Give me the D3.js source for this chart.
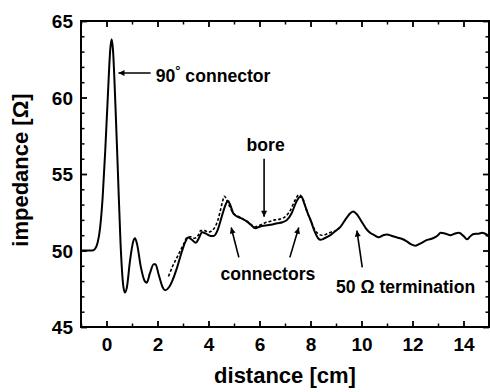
<!DOCTYPE html>
<html><head><meta charset="utf-8">
<script src="https://cdn.jsdelivr.net/npm/d3@7"></script>
<style>body{margin:0;background:#fff}svg{display:block}text{font-family:"Liberation Sans",Arial,sans-serif;font-weight:bold;fill:#000}</style>
</head><body><svg id="c" width="490" height="392"></svg>
<script>
const solidX=[-1.0,-0.55,-0.45,-0.35,-0.25,-0.15,-0.05,0.05,0.15,0.2,0.25,0.35,0.45,0.55,0.65,0.72,0.8,0.92,1.05,1.12,1.2,1.35,1.5,1.58,1.7,1.85,1.92,2.05,2.2,2.3,2.45,2.6,2.77,2.95,3.1,3.2,3.35,3.5,3.62,3.75,3.9,4.08,4.2,4.35,4.5,4.65,4.76,4.85,4.98,5.15,5.3,5.5,5.65,5.84,6.0,6.1,6.3,6.5,6.69,6.9,7.08,7.25,7.45,7.58,7.65,7.75,7.9,8.0,8.15,8.3,8.39,8.55,8.78,9.0,9.18,9.4,9.57,9.67,9.8,10.0,10.15,10.29,10.5,10.68,10.85,11.0,11.2,11.4,11.6,11.79,11.95,12.12,12.3,12.58,12.8,13.0,13.1,13.3,13.49,13.65,13.82,14.0,14.14,14.25,14.4,14.6,14.73,14.9,15.0];
const solidY=[50.0,50.0,50.1,50.5,51.5,53.5,56.5,60.0,63.2,63.8,63.2,59.5,55.0,50.5,47.8,47.25,47.6,49.3,50.6,50.8,50.4,48.9,48.0,47.9,48.5,49.1,49.1,48.4,47.6,47.4,47.6,48.1,48.9,49.9,50.6,50.85,50.7,50.5,50.8,51.2,51.1,50.95,50.95,51.3,52.1,52.9,53.25,53.0,52.4,52.2,52.1,51.9,51.7,51.45,51.55,51.6,51.65,51.7,51.78,51.85,52.0,52.4,53.2,53.5,53.5,53.1,52.4,52.0,51.3,50.8,50.7,50.8,51.0,51.3,51.56,52.1,52.45,52.55,52.4,51.9,51.5,51.23,51.0,50.86,51.0,51.05,50.95,50.85,50.75,50.58,50.4,50.31,50.45,50.69,50.8,51.0,51.16,51.1,51.0,51.1,51.16,50.95,50.73,50.9,51.08,51.1,51.16,51.05,50.9];
const dashX=[2.43,2.6,2.75,2.9,3.05,3.16,3.3,3.45,3.6,3.69,3.85,4.0,4.2,4.35,4.45,4.55,4.62,4.72,4.85,5.0,5.2,5.4,5.6,5.8,6.0,6.2,6.4,6.6,6.8,7.0,7.2,7.4,7.55,7.7,7.85,8.0,8.15,8.3,8.45,8.6,8.8,9.0,9.15];
const dashY=[48.3,49.0,49.5,50.0,50.5,50.86,50.9,50.8,51.0,51.3,51.3,51.2,51.4,51.9,52.5,53.2,53.55,53.3,52.8,52.4,52.2,52.0,51.8,51.55,51.65,51.8,51.9,52.0,52.05,52.2,52.6,53.3,53.65,53.4,52.6,52.0,51.4,51.1,51.0,51.05,51.2,51.3,51.5];
const xTicks=[0,2,4,6,8,10,12,14];
const yTicks=[45,50,55,60,65];
const xTitle="distance [cm]";
const yTitle="impedance [Ω]";

const svg=d3.select("#c");
const L=81,T=21,W=408,H=306;
const x=d3.scaleLinear().domain([-1,15]).range([L,L+W]);
const y=d3.scaleLinear().domain([45,65]).range([T+H,T]);
const g=svg.append("g");

const xMinor=d3.range(-1,16,1).filter(v=>v%2!==0);
const yMinor=d3.range(45,66,1).filter(v=>v%5!==0);
function axes(){
  const ax=[
    [d3.axisBottom(x).tickValues(xTicks).tickSize(-6).tickFormat(d3.format("d")),`translate(0,${T+H})`],
    [d3.axisTop(x).tickValues(xTicks).tickSize(-6).tickFormat(""),`translate(0,${T})`],
    [d3.axisLeft(y).tickValues(yTicks).tickSize(-6).tickFormat(d3.format("d")),`translate(${L},0)`],
    [d3.axisRight(y).tickValues(yTicks).tickSize(-6).tickFormat(""),`translate(${L+W},0)`]];
  const mn=[
    [d3.axisBottom(x).tickValues(xMinor).tickSize(-3.5).tickFormat(""),`translate(0,${T+H})`],
    [d3.axisTop(x).tickValues(xMinor).tickSize(-3.5).tickFormat(""),`translate(0,${T})`],
    [d3.axisLeft(y).tickValues(yMinor).tickSize(-3.5).tickFormat(""),`translate(${L},0)`],
    [d3.axisRight(y).tickValues(yMinor).tickSize(-3.5).tickFormat(""),`translate(${L+W},0)`]];
  mn.forEach(([a,t])=>{const s=g.append("g").attr("transform",t).call(a);s.select(".domain").remove();s.selectAll("line").attr("stroke","#000").attr("stroke-width",1.5);});
  ax.forEach(([a,t],i)=>{const s=g.append("g").attr("transform",t).call(a);s.select(".domain").remove();
    s.selectAll("line").attr("stroke","#000").attr("stroke-width",1.8);
    s.selectAll("text").attr("font-size",19).attr("font-family","Liberation Sans, Arial, sans-serif").attr("font-weight","bold").attr("fill","#000");
    if(i===0) s.selectAll("text").attr("dy",null).attr("y",24);
    if(i===2) s.selectAll("text").attr("x",-8).attr("dy","0.36em");
  });
}
axes();
g.append("rect").attr("x",L).attr("y",T).attr("width",W).attr("height",H).attr("fill","none").attr("stroke","#000").attr("stroke-width",2);

const line=d3.line().x(d=>x(d[0])).y(d=>y(d[1])).curve(d3.curveMonotoneX);
g.append("path").datum(dashX.map((v,i)=>[v,dashY[i]])).attr("d",line).attr("fill","none").attr("stroke","#000").attr("stroke-width",1.6).attr("stroke-dasharray","3,2");
g.append("path").datum(solidX.map((v,i)=>[v,solidY[i]])).attr("d",line).attr("fill","none").attr("stroke","#000").attr("stroke-width",2).attr("stroke-linejoin","round");

svg.append("text").attr("x",285).attr("y",383).attr("text-anchor","middle").attr("font-size",22).text(xTitle);
svg.append("text").attr("transform","translate(28,170) rotate(-90)").attr("text-anchor","middle").attr("font-size",22).text(yTitle);

const defs=svg.append("defs");
defs.append("marker").attr("id","ah").attr("viewBox","0 0 10 10").attr("refX",10).attr("refY",5)
  .attr("markerWidth",9).attr("markerHeight",6).attr("markerUnits","userSpaceOnUse").attr("orient","auto")
  .append("path").attr("d","M0,0L10,5L0,10Z").attr("fill","#000");
function arrow(x1,y1,x2,y2){svg.append("line").attr("x1",x(x1)).attr("y1",y(y1)).attr("x2",x(x2)).attr("y2",y(y2)).attr("stroke","#000").attr("stroke-width",1.6).attr("marker-end","url(#ah)");}
const annFont=17.6;
arrow(1.73,61.6,0.47,61.6);
const t1=svg.append("text").attr("x",x(1.93)).attr("y",y(61.0)).attr("font-size",annFont);
t1.append("tspan").text("90");t1.append("tspan").attr("dy",-7).attr("font-size",13).text("°");t1.append("tspan").attr("dy",7).text(" connector");
svg.append("text").attr("x",x(6.24)).attr("y",y(56.5)).attr("text-anchor","middle").attr("font-size",annFont).text("bore");
arrow(6.18,56.0,6.18,52.2);
arrow(5.19,49.55,4.89,51.5);
arrow(7.19,49.55,7.54,51.5);
svg.append("text").attr("x",x(6.33)).attr("y",y(48.1)).attr("text-anchor","middle").attr("font-size",annFont).text("connectors");
arrow(10.03,48.9,9.82,51.3);
svg.append("text").attr("x",x(9.0)).attr("y",y(47.2)).attr("font-size",annFont).text("50 Ω termination");
</script></body></html>
